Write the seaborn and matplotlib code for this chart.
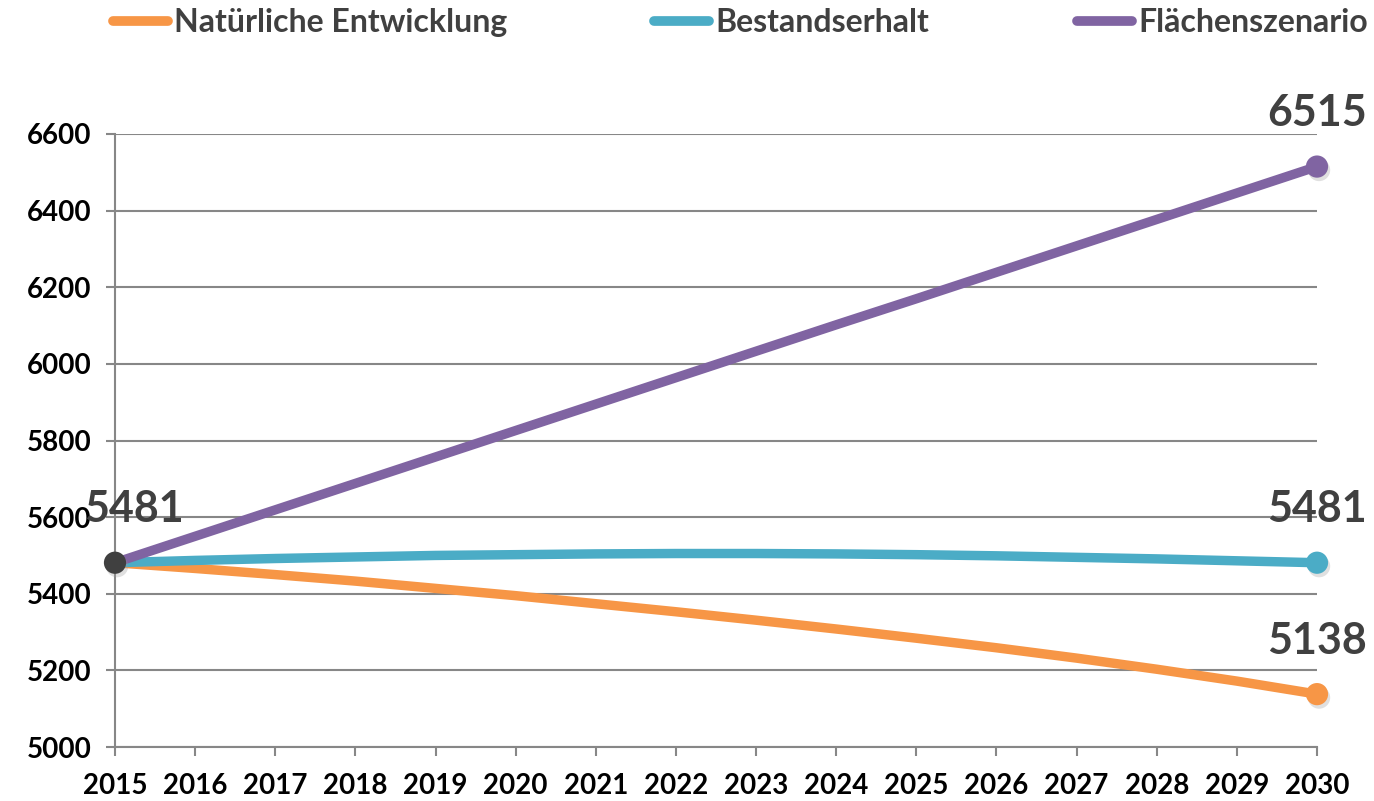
import matplotlib
matplotlib.use("Agg")
import matplotlib.pyplot as plt
import matplotlib.patheffects as pe
from matplotlib.lines import Line2D
import seaborn as sns
import pandas as pd

# Population scenarios 2015-2030
years = list(range(2015, 2031))
natuerlich = [5481, 5466, 5450, 5433, 5414, 5395, 5374, 5353, 5331, 5308,
              5284, 5259, 5232, 5203, 5172, 5138]
bestand = [5481, 5487, 5492, 5496, 5500, 5502, 5504, 5505, 5505, 5504,
           5502, 5499, 5495, 5491, 5486, 5481]
flaeche = [5481, 5550, 5619, 5688, 5757, 5826, 5895, 5964, 6033, 6102,
           6170, 6239, 6308, 6377, 6446, 6515]
series_names = ["Natürliche Entwicklung", "Bestandserhalt", "Flächenszenario"]
colors = ["#F79646", "#4BACC6", "#8064A2"]
start_color = "#404040"
y_ticks = [5000, 5200, 5400, 5600, 5800, 6000, 6200, 6400, 6600]

df = pd.DataFrame({
    "Jahr": years * 3,
    "Wert": natuerlich + bestand + flaeche,
    "Szenario": [n for n in series_names for _ in years],
})

sns.set_theme(style="white")
plt.rcParams["font.family"] = ["Lato", "DejaVu Sans"]
plt.rcParams["font.weight"] = "bold"

fig = plt.figure(figsize=(13.74, 8.01), dpi=100)
ax = fig.add_axes([115 / 1374, 54 / 801, 1202 / 1374, 613 / 801])

grid_col = "#878787"
sns.lineplot(data=df, x="Jahr", y="Wert", hue="Szenario", hue_order=series_names,
             palette=colors, linewidth=6.8, ax=ax, legend=False,
             solid_capstyle="round", zorder=3)

shadow = [pe.SimplePatchShadow(offset=(1.5, -2.5), shadow_rgbFace="#999999", alpha=0.3),
          pe.Normal()]

# end markers and value labels
for vals, col in zip([natuerlich, bestand, flaeche], colors):
    ax.scatter([years[-1]], [vals[-1]], s=16 ** 2, color=col, zorder=5,
               linewidths=0, clip_on=False, path_effects=shadow)
    ax.annotate(f"{vals[-1]}", (years[-1], vals[-1]), xytext=(0, 29),
                textcoords="offset points", ha="center", va="baseline",
                fontsize=31, fontweight="bold", color=start_color,
                annotation_clip=False, zorder=6)

# common starting point
ax.scatter([years[0]], [natuerlich[0]], s=16 ** 2, color=start_color, zorder=6,
           linewidths=0, clip_on=False, path_effects=shadow)
ax.annotate(f"{natuerlich[0]}", (years[0], natuerlich[0]), xytext=(14, 29),
            textcoords="offset points", ha="center", va="baseline",
            fontsize=31, fontweight="bold", color=start_color,
            annotation_clip=False, zorder=6)

ax.set_xlim(years[0], years[-1])
ax.set_ylim(y_ticks[0], y_ticks[-1])
ax.set_xticks(years)
ax.set_yticks(y_ticks)
ax.set_xlabel("")
ax.set_ylabel("")
ax.grid(axis="y", color=grid_col, linewidth=1.5)
ax.grid(axis="x", visible=False)
ax.set_axisbelow(True)
for s in ["top", "right"]:
    ax.spines[s].set_visible(False)
for s in ["left", "bottom"]:
    ax.spines[s].set_color(grid_col)
    ax.spines[s].set_linewidth(1.5)
ax.tick_params(axis="x", bottom=True, direction="out", length=6.5, width=1.5,
               color=grid_col, pad=12, labelsize=20, labelcolor="black")
ax.tick_params(axis="y", left=True, direction="out", length=6.5, width=1.5,
               color=grid_col, pad=10.5, labelsize=20, labelcolor="black")
for lab in ax.get_xticklabels() + ax.get_yticklabels():
    lab.set_fontweight("bold")

handles = [Line2D([0], [0], color=c, linewidth=7, solid_capstyle="round") for c in colors]
fig.legend(handles, series_names, loc="upper left", bbox_to_anchor=(106.5 / 1374, 0.998),
           ncol=3, frameon=False, handlelength=1.72, handletextpad=0.2,
           columnspacing=4.6, borderpad=0.2, borderaxespad=0,
           labelcolor=start_color, prop={"weight": "bold", "size": 23})

fig.savefig("out.png", dpi=100, facecolor="white")
